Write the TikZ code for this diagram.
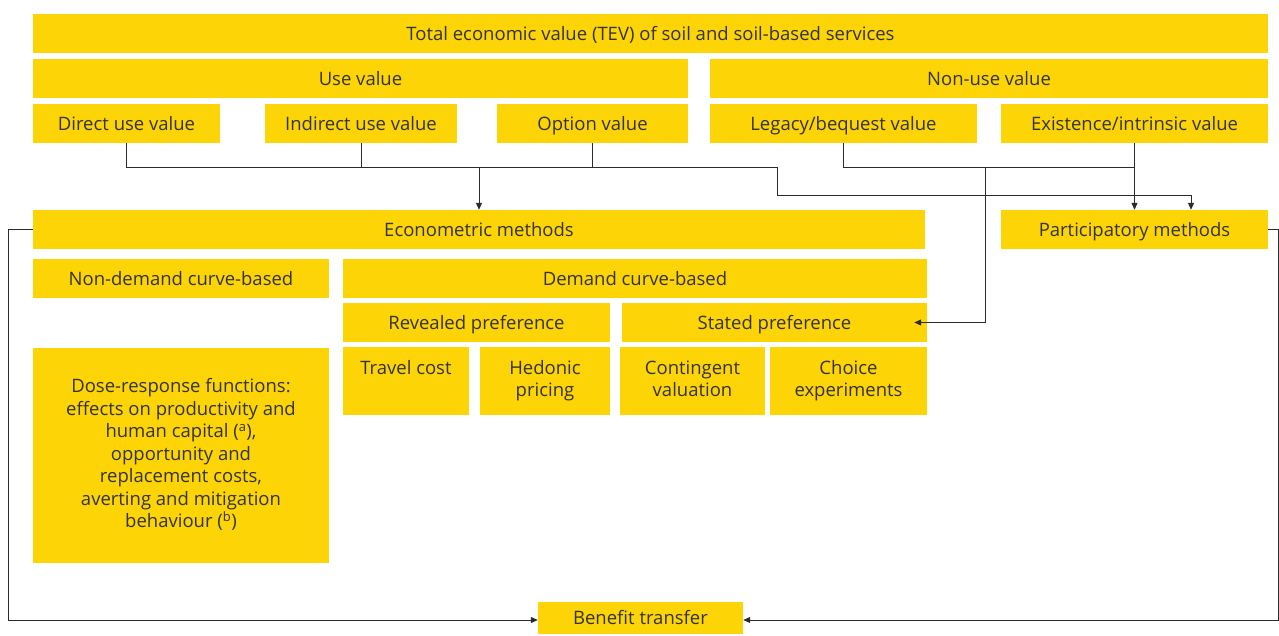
\documentclass[tikz,border=0pt]{standalone}
\usepackage{fontspec}
\setmainfont{Open Sans}
\usepackage{xcolor}
\usetikzlibrary{arrows.meta}
\definecolor{boxfill}{HTML}{FDD406}
\definecolor{ink}{HTML}{333333}
\definecolor{wire}{HTML}{2B2B2B}
\newcommand{\boxstrut}{\rule[-4.75pt]{0pt}{22.5pt}}
\tikzset{
  box/.style={fill=boxfill, draw=none, text=ink, inner sep=0pt, align=center,
    font=\fontsize{18.5}{22.5}\selectfont,
    execute at begin node=\boxstrut, execute at end node=\boxstrut},
  link/.style={draw=wire, line width=1pt},
  arr/.style={link, -{Triangle[length=7pt,width=6pt]}},
}

\begin{document}
\begin{tikzpicture}[x=1pt, y=-1pt]
  \useasboundingbox (0,0) rectangle (1279,635);

  % value tree
  \node[box, minimum width=1235, minimum height=39] (tev)      at (650.5,33.5) {Total economic value (TEV) of soil and soil-based services};
  \node[box, minimum width=655,  minimum height=39] (use)      at (360.5,78.5) {Use value};
  \node[box, minimum width=558,  minimum height=39] (nonuse)   at (989,78.5)   {Non-use value};
  \node[box, minimum width=187,  minimum height=39] (direct)   at (126.5,123.5) {Direct use value};
  \node[box, minimum width=192,  minimum height=39] (indirect) at (361,123.5)  {Indirect use value};
  \node[box, minimum width=191,  minimum height=39] (option)   at (592.5,123.5) {Option value};
  \node[box, minimum width=267,  minimum height=39] (legacy)   at (843.5,123.5) {Legacy/bequest value};
  \node[box, minimum width=267,  minimum height=39] (exist)    at (1134.5,123.5) {Existence/intrinsic value};

  % methods
  \node[box, minimum width=892, minimum height=39] (econ)      at (479,229.5)   {Econometric methods};
  \node[box, minimum width=267, minimum height=39] (partic)    at (1134.5,229.5) {Participatory methods};
  \node[box, minimum width=296, minimum height=39] (nondemand) at (181,278.5)   {Non-demand curve-based};
  \node[box, minimum width=584, minimum height=39] (demand)    at (635,278.5)   {Demand curve-based};
  \node[box, minimum width=267, minimum height=39] (revealed)  at (476.5,322.5) {Revealed preference};
  \node[box, minimum width=305, minimum height=39] (stated)    at (774.5,322.5) {Stated preference};
  \node[box, minimum width=126, minimum height=68] (travel)    at (406,381)     {Travel cost\\\mbox{}};
  \node[box, minimum width=130, minimum height=68] (hedonic)   at (545,381)     {Hedonic\\pricing};
  \node[box, minimum width=145, minimum height=68] (contingent) at (692.5,381)  {Contingent\\valuation};
  \node[box, minimum width=157, minimum height=68] (choice)    at (848.5,381)   {Choice\\experiments};
  \node[box, minimum width=296, minimum height=215] (dose)     at (181,455.5)
    {Dose-response functions:\\effects on productivity and\\human capital (\textsuperscript{a}),\\opportunity and\\replacement costs,\\averting and mitigation\\behaviour (\textsuperscript{b})};
  \node[box, minimum width=205, minimum height=32] (benefit)   at (640.5,618)   {Benefit transfer};

  \coordinate (bus)  at (479,167);
  \coordinate (bend) at (777,167);
  \coordinate (drop) at (985,167);

  % connectors
  \draw[link] (direct.south) -- ++(0,24) -| (option.south);
  \draw[link] (indirect.south) -- (indirect.south |- bus);
  \draw[arr]  (bus) -- (econ.north);
  \draw[arr]  (option.south |- bus) -- (bend) -- ++(0,28) -| ([xshift=56.5]partic.north);
  \draw[link] (legacy.south) -- ++(0,24) -| (exist.south);
  \draw[arr]  (exist.south) -- (partic.north);
  \draw[arr]  (drop) |- ([xshift=-13]stated.east);
  \draw[arr]  (econ.west) -- ++(-24,0) |- ([yshift=-2]benefit.west);
  \draw[arr]  (partic.east) -- ++(10,0) |- ([yshift=-2]benefit.east);
\end{tikzpicture}
\end{document}
